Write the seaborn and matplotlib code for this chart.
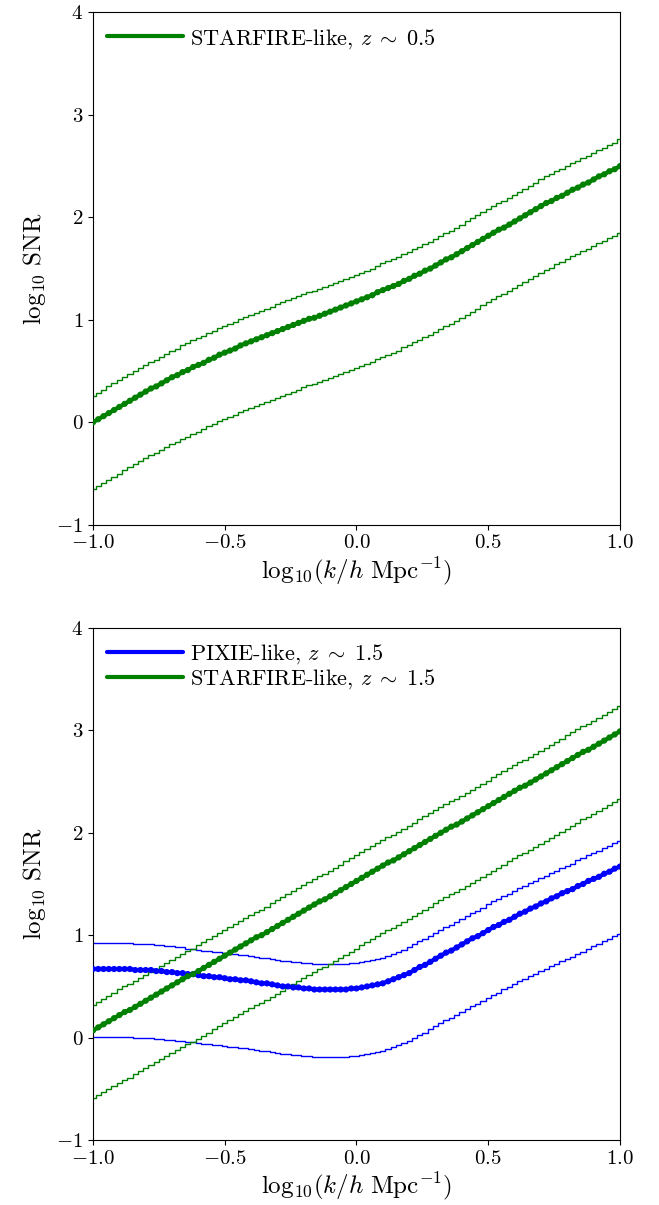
import numpy as np
import matplotlib
matplotlib.use("Agg")
import matplotlib.pyplot as plt
import seaborn as sns

# log10(k / h Mpc^-1) grid
k = np.linspace(-1, 1, 101)

# top panel: STARFIRE-like, z ~ 0.5
sf05_mid = [0.00,0.03,0.06,0.09,0.12,0.15,0.18,0.21,0.24,0.27,
            0.30,0.33,0.35,0.38,0.41,0.44,0.46,0.49,0.51,0.54,
            0.56,0.58,0.61,0.63,0.66,0.68,0.70,0.72,0.75,0.77,
            0.79,0.81,0.83,0.85,0.87,0.89,0.91,0.93,0.95,0.97,
            0.99,1.01,1.02,1.04,1.06,1.08,1.10,1.12,1.14,1.16,
            1.18,1.20,1.22,1.24,1.27,1.29,1.31,1.33,1.35,1.38,
            1.40,1.43,1.45,1.48,1.50,1.53,1.56,1.59,1.61,1.64,
            1.67,1.70,1.73,1.76,1.79,1.82,1.85,1.88,1.90,1.93,
            1.96,1.99,2.02,2.05,2.08,2.11,2.14,2.16,2.19,2.21,
            2.24,2.27,2.29,2.32,2.34,2.37,2.40,2.42,2.45,2.47,
            2.50]
sf05_hi = [0.26,0.29,0.32,0.35,0.38,0.41,0.44,0.47,0.50,0.53,
           0.56,0.59,0.61,0.64,0.67,0.70,0.72,0.75,0.77,0.80,
           0.82,0.84,0.87,0.89,0.92,0.94,0.96,0.98,1.01,1.03,
           1.05,1.07,1.09,1.11,1.13,1.15,1.17,1.19,1.21,1.23,
           1.25,1.27,1.28,1.30,1.32,1.34,1.36,1.38,1.40,1.42,
           1.44,1.46,1.48,1.50,1.53,1.55,1.57,1.59,1.61,1.64,
           1.66,1.69,1.71,1.74,1.76,1.79,1.82,1.85,1.87,1.90,
           1.93,1.96,1.99,2.02,2.05,2.08,2.11,2.14,2.16,2.19,
           2.22,2.25,2.28,2.31,2.34,2.37,2.40,2.42,2.45,2.47,
           2.50,2.53,2.55,2.58,2.60,2.63,2.66,2.68,2.71,2.73,
           2.76]
sf05_lo = [-0.65,-0.62,-0.59,-0.56,-0.53,-0.50,-0.47,-0.44,-0.41,-0.38,
           -0.35,-0.32,-0.30,-0.27,-0.24,-0.21,-0.19,-0.16,-0.14,-0.11,
           -0.09,-0.07,-0.04,-0.02,0.01,0.03,0.05,0.07,0.10,0.12,
           0.14,0.16,0.18,0.20,0.22,0.24,0.26,0.28,0.30,0.32,
           0.34,0.36,0.37,0.39,0.41,0.43,0.45,0.47,0.49,0.51,
           0.53,0.55,0.57,0.59,0.62,0.64,0.66,0.68,0.70,0.73,
           0.75,0.78,0.80,0.83,0.85,0.88,0.91,0.94,0.96,0.99,
           1.02,1.05,1.08,1.11,1.14,1.17,1.20,1.23,1.25,1.28,
           1.31,1.34,1.37,1.40,1.43,1.46,1.49,1.51,1.54,1.56,
           1.59,1.62,1.64,1.67,1.69,1.72,1.75,1.77,1.80,1.82,
           1.85]

# bottom panel: PIXIE-like, z ~ 1.5
px15_mid = [0.67,0.67,0.67,0.67,0.67,0.67,0.67,0.67,0.66,0.66,
            0.66,0.66,0.65,0.65,0.64,0.64,0.63,0.63,0.62,0.62,
            0.61,0.60,0.60,0.59,0.59,0.58,0.57,0.57,0.56,0.56,
            0.55,0.54,0.53,0.53,0.52,0.51,0.50,0.50,0.49,0.49,
            0.48,0.48,0.47,0.47,0.47,0.47,0.47,0.47,0.47,0.48,
            0.48,0.49,0.50,0.51,0.52,0.53,0.55,0.57,0.59,0.61,
            0.63,0.66,0.69,0.71,0.74,0.77,0.80,0.83,0.85,0.88,
            0.91,0.94,0.97,0.99,1.02,1.05,1.08,1.10,1.13,1.15,
            1.18,1.21,1.23,1.26,1.28,1.31,1.33,1.36,1.38,1.41,
            1.43,1.45,1.48,1.50,1.53,1.55,1.57,1.60,1.62,1.65,
            1.67]
px15_hi = [0.92,0.92,0.92,0.92,0.92,0.92,0.92,0.92,0.91,0.91,
           0.91,0.91,0.90,0.90,0.89,0.89,0.88,0.88,0.87,0.87,
           0.86,0.85,0.85,0.84,0.84,0.83,0.82,0.82,0.81,0.81,
           0.80,0.79,0.78,0.78,0.77,0.76,0.75,0.75,0.74,0.74,
           0.73,0.73,0.72,0.72,0.72,0.72,0.72,0.72,0.72,0.73,
           0.73,0.74,0.75,0.76,0.77,0.78,0.80,0.82,0.84,0.86,
           0.88,0.91,0.94,0.96,0.99,1.02,1.05,1.08,1.10,1.13,
           1.16,1.19,1.22,1.24,1.27,1.30,1.33,1.35,1.38,1.40,
           1.43,1.46,1.48,1.51,1.53,1.56,1.58,1.61,1.63,1.66,
           1.68,1.70,1.73,1.75,1.78,1.80,1.82,1.85,1.87,1.90,
           1.92]
px15_lo = [0.01,0.01,0.01,0.01,0.01,0.01,0.01,0.01,0.00,0.00,
           0.00,0.00,-0.01,-0.01,-0.02,-0.02,-0.03,-0.03,-0.04,-0.04,
           -0.05,-0.06,-0.06,-0.07,-0.07,-0.08,-0.09,-0.09,-0.10,-0.10,
           -0.11,-0.12,-0.13,-0.13,-0.14,-0.15,-0.16,-0.16,-0.17,-0.17,
           -0.18,-0.18,-0.19,-0.19,-0.19,-0.19,-0.19,-0.19,-0.19,-0.18,
           -0.18,-0.17,-0.16,-0.15,-0.14,-0.13,-0.11,-0.09,-0.07,-0.05,
           -0.03,0.00,0.03,0.05,0.08,0.11,0.14,0.17,0.19,0.22,
           0.25,0.28,0.31,0.33,0.36,0.39,0.42,0.44,0.47,0.49,
           0.52,0.55,0.57,0.60,0.62,0.65,0.67,0.70,0.72,0.75,
           0.77,0.79,0.82,0.84,0.87,0.89,0.91,0.94,0.96,0.99,
           1.01]

# bottom panel: STARFIRE-like, z ~ 1.5
sf15_mid = [0.07,0.10,0.13,0.16,0.19,0.22,0.25,0.27,0.30,0.33,
            0.36,0.39,0.42,0.45,0.48,0.51,0.54,0.57,0.60,0.62,
            0.65,0.68,0.71,0.74,0.77,0.80,0.83,0.86,0.89,0.92,
            0.95,0.98,1.00,1.03,1.06,1.09,1.12,1.15,1.18,1.21,
            1.24,1.27,1.30,1.33,1.35,1.38,1.41,1.44,1.47,1.50,
            1.53,1.56,1.59,1.62,1.65,1.68,1.71,1.73,1.76,1.79,
            1.82,1.85,1.88,1.91,1.94,1.97,2.00,2.03,2.06,2.08,
            2.11,2.14,2.17,2.20,2.23,2.26,2.29,2.32,2.35,2.38,
            2.41,2.44,2.46,2.49,2.52,2.55,2.58,2.61,2.64,2.67,
            2.70,2.73,2.76,2.79,2.81,2.84,2.87,2.90,2.93,2.96,
            2.99]
sf15_hi = [0.32,0.35,0.38,0.41,0.44,0.47,0.50,0.52,0.55,0.58,
           0.61,0.64,0.67,0.70,0.73,0.76,0.79,0.82,0.85,0.87,
           0.90,0.93,0.96,0.99,1.02,1.05,1.08,1.11,1.14,1.17,
           1.20,1.23,1.25,1.28,1.31,1.34,1.37,1.40,1.43,1.46,
           1.49,1.52,1.55,1.58,1.60,1.63,1.66,1.69,1.72,1.75,
           1.78,1.81,1.84,1.87,1.90,1.93,1.96,1.98,2.01,2.04,
           2.07,2.10,2.13,2.16,2.19,2.22,2.25,2.28,2.31,2.33,
           2.36,2.39,2.42,2.45,2.48,2.51,2.54,2.57,2.60,2.63,
           2.66,2.69,2.71,2.74,2.77,2.80,2.83,2.86,2.89,2.92,
           2.95,2.98,3.01,3.04,3.06,3.09,3.12,3.15,3.18,3.21,
           3.24]
sf15_lo = [-0.59,-0.56,-0.53,-0.50,-0.47,-0.44,-0.41,-0.39,-0.36,-0.33,
           -0.30,-0.27,-0.24,-0.21,-0.18,-0.15,-0.12,-0.09,-0.06,-0.04,
           -0.01,0.02,0.05,0.08,0.11,0.14,0.17,0.20,0.23,0.26,
           0.29,0.32,0.34,0.37,0.40,0.43,0.46,0.49,0.52,0.55,
           0.58,0.61,0.64,0.67,0.69,0.72,0.75,0.78,0.81,0.84,
           0.87,0.90,0.93,0.96,0.99,1.02,1.05,1.07,1.10,1.13,
           1.16,1.19,1.22,1.25,1.28,1.31,1.34,1.37,1.40,1.42,
           1.45,1.48,1.51,1.54,1.57,1.60,1.63,1.66,1.69,1.72,
           1.75,1.78,1.80,1.83,1.86,1.89,1.92,1.95,1.98,2.01,
           2.04,2.07,2.10,2.13,2.15,2.18,2.21,2.24,2.27,2.30,
           2.33]

sns.set_style("ticks", {"axes.edgecolor": "black", "text.color": "black",
                        "xtick.color": "black", "ytick.color": "black",
                        "axes.labelcolor": "black"})
plt.rcParams['font.family'] = 'serif'
plt.rcParams['font.serif'] = ['cmr10', 'DejaVu Serif']
plt.rcParams['mathtext.fontset'] = 'cm'
plt.rcParams['axes.formatter.use_mathtext'] = True
plt.rcParams['font.size'] = 15


def draw_survey(ax, mid, hi, lo, color, label):
    sns.lineplot(x=k, y=hi, ax=ax, color=color, lw=1, drawstyle='steps-mid')
    sns.lineplot(x=k, y=lo, ax=ax, color=color, lw=1, drawstyle='steps-mid')
    line = ax.plot(k, mid, color=color, lw=3, label=label)[0]
    sns.scatterplot(x=k, y=mid, ax=ax, color=color, s=20, edgecolor='none',
                    linewidth=0, zorder=3)
    return line


def finish(ax, handles):
    ax.set_xlim(-1, 1)
    ax.set_ylim(-1, 4)
    ax.set_xticks([-1.0, -0.5, 0.0, 0.5, 1.0])
    ax.set_yticks([-1, 0, 1, 2, 3, 4])
    ax.set_xlabel(r'$\mathrm{log}_{10}(k/h\ \mathrm{Mpc}^{-1})$', fontsize=18, labelpad=2)
    ax.set_ylabel(r'$\mathrm{log}_{10}\ \mathrm{SNR}$', fontsize=18, labelpad=6)
    ax.legend(handles=handles, loc='upper left', frameon=False, fontsize=16,
              handlelength=3.4, handletextpad=0.3, labelspacing=0.05,
              borderaxespad=0.25)


fig = plt.figure(figsize=(6.59, 12.05), dpi=100)
ax1 = fig.add_axes([0.1411, 0.5645, 0.7997, 0.4252])
ax2 = fig.add_axes([0.1411, 0.0539, 0.7997, 0.4250])

h1 = draw_survey(ax1, sf05_mid, sf05_hi, sf05_lo, 'green', r'STARFIRE-like, $z\;\sim\;0.5$')
finish(ax1, [h1])

h2 = draw_survey(ax2, px15_mid, px15_hi, px15_lo, 'blue', r'PIXIE-like, $z\;\sim\;1.5$')
h3 = draw_survey(ax2, sf15_mid, sf15_hi, sf15_lo, 'green', r'STARFIRE-like, $z\;\sim\;1.5$')
finish(ax2, [h2, h3])

fig.savefig('out.png', dpi=100)
